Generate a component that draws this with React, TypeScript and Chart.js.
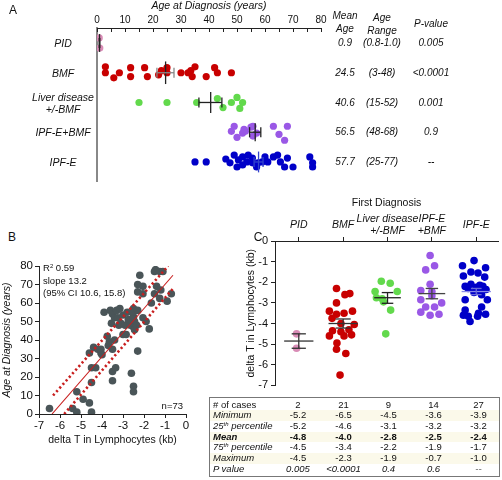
import React, { useEffect, useRef } from 'react';
import { Chart, registerables } from 'chart.js';
Chart.register(...registerables);

const FONT = "'Liberation Sans', Arial, Helvetica, sans-serif";

// ---------------- Panel A : age at diagnosis ----------------
const groupLabelsA = [['PID'], ['BMF'], ['Liver disease', '+/-BMF'], ['IPF-E+BMF'], ['IPF-E']];
const agePID = [0.8, 1.0];
const jitterPID = [-0.17, 0.17];
const ageBMF = [3, 3, 6, 8, 12, 12, 17, 18, 22, 23, 25, 25, 30, 32.5, 33.5, 35, 34, 39, 42, 43, 48];
const jitterBMF = [-0.2, 0, 0.17, 0, -0.17, 0.13, -0.17, 0.13, 0.07, -0.07, -0.17, 0, 0, 0, -0.07, -0.2, 0.13, 0.13, -0.17, 0, 0];
const ageLiver = [15, 25, 35.6, 43, 45, 48, 50, 52, 51];
const jitterLiver = [0, 0, 0, -0.13, 0.17, 0, -0.17, 0, 0.2];
const ageIPFBMF = [48, 49, 50, 52, 52.5, 53, 55, 55.7, 55.7, 57, 63, 65, 67, 68];
const jitterIPFBMF = [-0.03, -0.2, 0.17, 0.03, -0.1, -0.03, -0.17, -0.2, 0.13, 0.03, -0.2, 0.07, 0.27, -0.2];
const ageIPF = [35, 39, 46, 47.5, 49, 50, 50.5, 52, 52, 53.5, 54, 55.5, 55.5, 57, 57.5, 59, 60, 61, 63, 64.5, 65.5, 67, 68, 70, 76, 77, 77];
const jitterIPF = [0, 0, -0.1, 0.03, -0.23, 0.17, -0.07, 0.1, -0.17, 0, -0.23, -0.13, 0.03, 0.17, 0.03, 0, -0.17, 0, -0.17, -0.23, 0, 0.17, -0.13, 0.17, -0.17, 0.03, 0.17];
const meanAge = [0.9, 24.5, 40.6, 56.5, 57.7];
const semLoAge = [0.8, 21.4, 36.4, 54.5, 56.1];
const semHiAge = [1.0, 27.5, 44.6, 58.5, 59.3];
const meanAgeText = ['0.9', '24.5', '40.6', '56.5', '57.7'];
const ageRangeText = ['(0.8-1.0)', '(3-48)', '(15-52)', '(48-68)', '(25-77)'];
const pValueA = ['0.005', '<0.0001', '0.001', '0.9', '--'];
const ageTickMarks = [0, 5, 10, 15, 20, 25, 30, 35, 40, 45, 50, 55, 60, 65, 70, 75, 80];

// ---------------- Panel B : correlation ----------------
const deltaTB = [-6.5, -5.4, -5.2, -5.2, -4.9, -4.6, -4.5, -4.5, -4.5, -4.3,
  -4.6, -4.4, -4.2, -4.05, -4.05, -4.0, -3.9, -3.7, -3.75, -3.65,
  -3.6, -3.5, -3.55, -3.5, -3.4, -3.5, -3.5, -3.35, -3.4, -3.3,
  -3.25, -3.2, -3.15, -3.1, -3.0, -2.9, -3.0, -2.85, -2.75, -2.65,
  -2.8, -2.6, -2.5, -2.5, -2.55, -2.45, -2.5, -2.45, -2.35, -2.6,
  -2.5, -2.5, -2.3, -2.3, -2.3, -2.3, -2.2, -2.05, -2.05, -2.05,
  -1.9, -1.75, -1.65, -1.5, -1.5, -1.4, -1.25, -1.25, -1.1, -1.2,
  -0.9, -0.7, -1.45];
const ageB = [3, 3, 1, 12, 8, 6, 1, 17, 25, 25,
  33, 36, 35, 35, 33, 32, 55, 37, 42, 39,
  56, 54, 49, 35, 40, 18, 23, 25, 52, 56,
  52, 48, 57, 49, 53.5, 48, 43, 43, 51, 48,
  55, 51, 52.5, 57, 55, 50, 47, 45.5, 48, 22,
  15, 12, 34, 56, 66, 70, 75, 65, 69, 52,
  50, 46, 60, 65, 77, 69, 62.5, 77, 77, 67,
  61, 65, 78];
const fitX = [-6.38, -0.62];
const fitY = [0, 75];
const ciUpperX = [-6.33, -0.85];
const ciUpperY = [10, 80];
const ciLowerX = [-5.8, -0.6];
const ciLowerY = [0, 68];

// ---------------- Panel C : delta T by first diagnosis ----------------
const groupLabelsC: (string | string[])[] = ['PID', 'BMF', ['Liver disease', '+/-BMF'], ['IPF-E', '+BMF'], 'IPF-E'];
const telPID = [-4.5, -5.2];
const jitterCPID = [-0.05, -0.05];
const telBMF = [-2.3, -3.0, -2.6, -2.55, -3.4, -3.55, -3.75, -3.5, -3.4, -4.0, -4.05, -4.35, -4.4, -4.3, -4.6, -4.6, -4.55, -4.95, -5.25, -5.45, -6.5];
const jitterCBMF = [-0.15, -0.15, 0.04, 0.15, -0.31, -0.15, -0.25, 0.02, 0.21, -0.05, 0.25, -0.24, -0.05, 0.13, -0.31, 0.02, 0.19, -0.14, -0.15, 0.06, -0.07];
const telLiver = [-1.95, -2.05, -2.45, -2.45, -2.8, -2.95, -3.35, -4.5, -2.75];
const jitterCLiver = [-0.14, 0.06, -0.28, 0.22, -0.12, -0.09, 0.07, -0.04, -0.25];
const telIPFBMF = [-0.7, -1.2, -1.4, -2.1, -2.4, -2.45, -2.85, -2.65, -3.0, -3.2, -3.2, -3.45, -3.55, -3.6];
const jitterCIPFBMF = [-0.04, 0.06, -0.14, -0.04, -0.25, 0, -0.25, 0, 0.22, -0.14, 0.06, -0.25, 0.16, -0.04];
const telIPF = [-0.95, -1.2, -1.3, -1.5, -1.55, -1.7, -1.75, -2.1, -2.15, -2.2, -2.2, -2.25, -2.3, -2.35, -2.45, -2.5, -2.6, -2.85, -2.85, -3.2, -3.35, -3.5, -3.55, -3.6, -3.65, -3.65, -3.9];
const jitterCIPF = [-0.05, -0.31, 0.21, -0.12, 0.04, -0.29, 0.19, -0.12, 0.08, -0.25, 0.15, 0, -0.18, 0.22, 0.1, -0.05, 0.12, -0.25, 0.25, 0.12, -0.25, 0.05, 0.21, -0.29, -0.18, 0.03, -0.14];
const meanTel = [-4.85, -4.0, -2.75, -2.55, -2.45];
const semLoTel = [-5.2, -4.22, -3.02, -2.8, -2.6];
const semHiTel = [-4.5, -3.78, -2.5, -2.3, -2.3];

const tableRowLabels = ['# of cases', 'Minimum', '25th percentile', 'Mean', '75th percentile', 'Maximum', 'P value'];
const rowCases = ['2', '21', '9', '14', '27'];
const rowMin = ['-5.2', '-6.5', '-4.5', '-3.6', '-3.9'];
const rowP25 = ['-5.2', '-4.6', '-3.1', '-3.2', '-3.2'];
const rowMean = ['-4.8', '-4.0', '-2.8', '-2.5', '-2.4'];
const rowP75 = ['-4.5', '-3.4', '-2.2', '-1.9', '-1.7'];
const rowMax = ['-4.5', '-2.3', '-1.9', '-0.7', '-1.0'];
const rowPValue = ['0.005', '<0.0001', '0.4', '0.6', '--'];

const groupColors = ['#d98cb6', '#c80000', '#62d94c', '#9a58e6', '#0000c8'];

type MS = { cat: number; mean: number; lo: number; hi: number; color: string; semColor: string; meanHalf: number; capHalf: number };

function meanSemPlugin(items: MS[], valueAxis: 'x' | 'y') {
  return {
    id: 'meanSem' + valueAxis,
    afterDatasetsDraw(chart: any) {
      const ctx = chart.ctx;
      const xs = chart.scales.x;
      const ys = chart.scales.y;
      const P = (cat: number, val: number) =>
        valueAxis === 'x' ? [xs.getPixelForValue(val), ys.getPixelForValue(cat)] : [xs.getPixelForValue(cat), ys.getPixelForValue(val)];
      const seg = (a: number[], b: number[]) => {
        ctx.beginPath();
        ctx.moveTo(a[0], a[1]);
        ctx.lineTo(b[0], b[1]);
        ctx.stroke();
      };
      ctx.save();
      ctx.lineWidth = 1.3;
      for (const it of items) {
        ctx.strokeStyle = it.color;
        seg(P(it.cat - it.meanHalf, it.mean), P(it.cat + it.meanHalf, it.mean));
        ctx.strokeStyle = it.semColor;
        seg(P(it.cat, it.lo), P(it.cat, it.hi));
        seg(P(it.cat - it.capHalf, it.lo), P(it.cat + it.capHalf, it.lo));
        seg(P(it.cat - it.capHalf, it.hi), P(it.cat + it.capHalf, it.hi));
      }
      ctx.restore();
    },
  };
}

const innerTicksA = {
  id: 'innerTicksA',
  afterDraw(chart: any) {
    const { ctx, chartArea } = chart;
    const x = chart.scales.x;
    ctx.save();
    ctx.strokeStyle = '#222';
    ctx.lineWidth = 1;
    for (const v of ageTickMarks) {
      const px = Math.round(x.getPixelForValue(v)) + 0.5;
      ctx.beginPath();
      ctx.moveTo(px, chartArea.top);
      ctx.lineTo(px, chartArea.top + 4);
      ctx.stroke();
    }
    ctx.restore();
  },
};

const noLegend = { legend: { display: false }, tooltip: { enabled: false } };

function configA(): any {
  const groups = [
    [agePID, jitterPID], [ageBMF, jitterBMF], [ageLiver, jitterLiver], [ageIPFBMF, jitterIPFBMF], [ageIPF, jitterIPF],
  ];
  const markerColors = ['#222', '#222', '#222', '#222', '#3344cc'];
  const semColors = ['#222', '#888', '#222', '#222', '#3344cc'];
  const meanHalf = [0.3, 0.38, 0.35, 0.3, 0.35];
  const items: MS[] = meanAge.map((m, i) => ({
    cat: i, mean: m, lo: semLoAge[i], hi: semHiAge[i], color: markerColors[i], semColor: semColors[i], meanHalf: meanHalf[i], capHalf: 0.17,
  }));
  return {
    type: 'scatter',
    data: {
      datasets: groups.map(([ages, jit], gi) => ({
        data: ages.map((a, i) => ({ x: a, y: gi + jit[i] })),
        backgroundColor: groupColors[gi],
        borderWidth: 0,
        pointRadius: 3.6,
      })),
    },
    options: {
      responsive: false,
      animation: false,
      layout: { padding: { left: 0, top: 0, right: 9, bottom: 9 } },
      plugins: noLegend,
      scales: {
        x: {
          type: 'linear', position: 'top', min: 0, max: 80,
          ticks: { stepSize: 10, font: { family: FONT, size: 10 }, color: '#111', padding: 2 },
          grid: { display: false, drawTicks: false, tickLength: 0 },
          border: { display: true, color: '#222', width: 1 },
          title: { display: true, text: 'Age at Diagnosis (years)', font: { family: FONT, size: 10.5, style: 'italic' }, color: '#111', padding: { top: 0, bottom: 0 } },
          afterFit: (s: any) => { s.height = 28; },
        },
        y: {
          type: 'linear', position: 'left', reverse: true, min: -0.504, max: 4.64,
          ticks: { display: false },
          grid: { display: false, drawTicks: false, tickLength: 0 },
          border: { display: true, color: '#888', width: 2 },
          afterFit: (s: any) => { s.width = 97; },
        },
      },
    },
    plugins: [innerTicksA, meanSemPlugin(items, 'x')],
  };
}

function configB(): any {
  const lineDs = (xs: number[], ys: number[], dash: number[], width: number) => ({
    data: xs.map((x, i) => ({ x, y: ys[i] })),
    showLine: true, pointRadius: 0, borderColor: '#c81e1e', borderWidth: width, borderDash: dash, fill: false,
  });
  const axisCommon = {
    grid: { display: true, drawOnChartArea: false, drawTicks: true, tickLength: 4, color: '#222' },
    border: { display: true, color: '#222', width: 1 },
  };
  return {
    type: 'scatter',
    data: {
      datasets: [
        lineDs(fitX, fitY, [], 1.1),
        lineDs(ciUpperX, ciUpperY, [2.2, 2.6], 2.6),
        lineDs(ciLowerX, ciLowerY, [2.2, 2.6], 2.6),
        {
          data: deltaTB.map((x, i) => ({ x, y: ageB[i] })),
          backgroundColor: '#4a5558', borderWidth: 0, pointRadius: 3.8,
        },
      ],
    },
    options: {
      responsive: false,
      animation: false,
      layout: { padding: { left: 0, top: 11, right: 14, bottom: 0 } },
      plugins: noLegend,
      scales: {
        x: {
          type: 'linear', min: -7, max: 0,
          ticks: { stepSize: 1, font: { family: FONT, size: 11.5 }, color: '#111', padding: 1 },
          ...axisCommon,
          title: { display: true, text: 'delta T in Lymphocytes (kb)', font: { family: FONT, size: 10.5 }, color: '#111', padding: { top: 0, bottom: 4 } },
          afterFit: (s: any) => { s.height = 36; },
        },
        y: {
          type: 'linear', min: 0, max: 80,
          ticks: { stepSize: 10, font: { family: FONT, size: 11.5 }, color: '#111', padding: 2 },
          ...axisCommon,
          title: { display: true, text: 'Age at Diagnosis (years)', font: { family: FONT, size: 10.5, style: 'italic' }, color: '#111', padding: { top: 1, bottom: 0 } },
          afterFit: (s: any) => { s.width = 39; },
        },
      },
    },
  };
}

function configC(): any {
  const groups = [
    [telPID, jitterCPID], [telBMF, jitterCBMF], [telLiver, jitterCLiver], [telIPFBMF, jitterCIPFBMF], [telIPF, jitterCIPF],
  ];
  const markerColors = ['#333', '#333', '#222', '#444', '#8a8ae8'];
  const semColors = ['#333', '#333', '#222', '#444', '#6a6ad8'];
  const meanHalf = [0.33, 0.33, 0.3, 0.3, 0.33];
  const capHalf = [0.16, 0.17, 0.13, 0.14, 0.12];
  const items: MS[] = meanTel.map((m, i) => ({
    cat: i, mean: m, lo: semLoTel[i], hi: semHiTel[i], color: markerColors[i], semColor: semColors[i], meanHalf: meanHalf[i], capHalf: capHalf[i],
  }));
  const axisCommon = {
    grid: { display: true, drawOnChartArea: false, drawTicks: true, tickLength: 4, color: '#222' },
    border: { display: true, color: '#222', width: 1 },
  };
  return {
    type: 'scatter',
    data: {
      datasets: groups.map(([vals, jit], gi) => ({
        data: vals.map((v, i) => ({ x: gi + jit[i], y: v })),
        backgroundColor: groupColors[gi],
        borderWidth: 0,
        pointRadius: 3.8,
      })),
    },
    options: {
      responsive: false,
      animation: false,
      layout: { padding: { left: 0, top: 0, right: 2, bottom: 6 } },
      plugins: noLegend,
      scales: {
        x: {
          type: 'linear', position: 'top', min: -0.536, max: 4.49,
          afterBuildTicks: (s: any) => { s.ticks = groupLabelsC.map((_, i) => ({ value: i })); },
          ticks: {
            callback: (v: any) => groupLabelsC[v as number],
            font: { family: FONT, size: 10.5, style: 'italic', lineHeight: 1.14 },
            color: '#111', padding: 6, crossAlign: 'center', autoSkip: false, maxRotation: 0, minRotation: 0,
          },
          ...axisCommon,
          title: { display: true, text: 'First Diagnosis', font: { family: FONT, size: 10.5 }, color: '#111', padding: { top: 2, bottom: 0 } },
          afterFit: (s: any) => { s.height = 46; },
        },
        y: {
          type: 'linear', min: -7, max: 0,
          ticks: { stepSize: 1, font: { family: FONT, size: 11 }, color: '#111', padding: 3 },
          ...axisCommon,
          title: { display: true, text: 'delta T in Lymphocytes (kb)', font: { family: FONT, size: 10.5 }, color: '#111', padding: { top: 45, bottom: 0 } },
          afterFit: (s: any) => { s.width = 75; },
        },
      },
    },
    plugins: [meanSemPlugin(items, 'y')],
  };
}

function ChartCanvas({ left, top, width, height, make }: { left: number; top: number; width: number; height: number; make: () => any }) {
  const ref = useRef<HTMLCanvasElement>(null);
  useEffect(() => {
    const chart = new Chart(ref.current as HTMLCanvasElement, make());
    return () => chart.destroy();
  }, []);
  return <canvas ref={ref} width={width} height={height} style={{ position: 'absolute', left, top, width, height }} />;
}

function Txt({ x, y, children, align = 'center', size = 10, italic = true, bold = false, w = 120 }: any) {
  const left = align === 'center' ? x - w / 2 : align === 'right' ? x - w : x;
  return (
    <div style={{
      position: 'absolute', left, top: y - 7, width: w, height: 14, lineHeight: '14px', textAlign: align,
      fontSize: size, fontStyle: italic ? 'italic' : 'normal', fontWeight: bold ? 'bold' : 'normal', whiteSpace: 'nowrap', color: '#111',
    }}>{children}</div>
  );
}

export default function App() {
  const rowY = (i: number) => 43 + i * 29.75;
  const tableRows = [rowCases, rowMin, rowP25, rowMean, rowP75, rowMax, rowPValue];
  const colX = [88, 133.5, 178.5, 223.5, 268.5];
  return (
    <div style={{ position: 'absolute', left: 0, top: 0, width: 502, height: 480, background: '#fff', fontFamily: FONT, overflow: 'hidden' }}>
      <ChartCanvas left={0} top={0} width={330} height={190} make={configA} />
      <ChartCanvas left={0} top={255} width={200} height={195} make={configB} />
      <ChartCanvas left={200} top={195} width={302} height={200} make={configC} />

      <Txt x={13} y={10} size={12} italic={false}>A</Txt>
      <Txt x={12} y={237} size={12} italic={false}>B</Txt>
      <Txt x={258} y={237} size={12} italic={false}>C</Txt>

      {groupLabelsA.map((lines, i) =>
        lines.length === 1
          ? <Txt key={i} x={63} y={rowY(i)} size={10.5}>{lines[0]}</Txt>
          : <React.Fragment key={i}>
              <Txt x={63} y={rowY(i) - 6} size={10.5}>{lines[0]}</Txt>
              <Txt x={63} y={rowY(i) + 6} size={10.5}>{lines[1]}</Txt>
            </React.Fragment>
      )}

      <Txt x={345} y={16} size={10}>Mean</Txt>
      <Txt x={345} y={29} size={10}>Age</Txt>
      <Txt x={382} y={18} size={10}>Age</Txt>
      <Txt x={382} y={31} size={10}>Range</Txt>
      <Txt x={431} y={24} size={10}>P-value</Txt>
      {meanAgeText.map((t, i) => <Txt key={'m' + i} x={345} y={rowY(i)} size={10}>{t}</Txt>)}
      {ageRangeText.map((t, i) => <Txt key={'r' + i} x={382} y={rowY(i)} size={10}>{t}</Txt>)}
      {pValueA.map((t, i) => <Txt key={'p' + i} x={431} y={rowY(i)} size={10}>{t}</Txt>)}

      <div style={{ position: 'absolute', left: 43, top: 262, fontSize: 9.5, lineHeight: '12px', color: '#111', whiteSpace: 'nowrap' }}>
        <div>R<span style={{ fontSize: 6, position: 'relative', top: -3 }}>2</span> 0.59</div>
        <div>slope 13.2</div>
        <div>(95% CI 10.6, 15.8)</div>
      </div>
      <Txt x={183} y={406} size={9.5} italic={false} align="right">n=73</Txt>

      <div style={{ position: 'absolute', left: 209, top: 397, width: 289, height: 78, border: '1px solid #777', background: '#fff' }}>
        {tableRows.map((row, r) => (
          <div key={r} style={{
            position: 'absolute', left: 0, top: 1.5 + r * 10.67, width: 289, height: 10.67, lineHeight: '10.67px', fontSize: 9.5,
            background: r % 2 === 1 ? '#fbf9ea' : 'transparent', color: '#111',
          }}>
            <div style={{
              position: 'absolute', left: 3, top: 0, whiteSpace: 'nowrap',
              fontStyle: r === 0 ? 'normal' : 'italic', fontWeight: r === 3 ? 'bold' : 'normal',
            }}>
              {r === 2 || r === 4
                ? <>{tableRowLabels[r].slice(0, 2)}<span style={{ fontSize: 6, position: 'relative', top: -3 }}>th</span>{tableRowLabels[r].slice(4)}</>
                : tableRowLabels[r]}
            </div>
            {row.map((v, c) => (
              <div key={c} style={{
                position: 'absolute', left: colX[c] - 25, width: 50, top: 0, textAlign: 'center', whiteSpace: 'nowrap',
                fontWeight: r === 3 ? 'bold' : 'normal', fontStyle: r === 6 ? 'italic' : 'normal',
              }}>{v}</div>
            ))}
          </div>
        ))}
      </div>
    </div>
  );
}
